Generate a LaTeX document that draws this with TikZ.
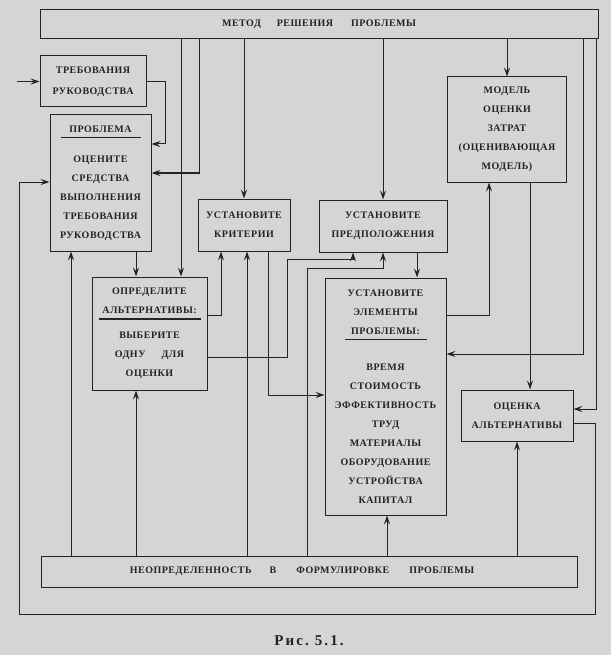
\documentclass[tikz,border=0pt]{standalone}
\usepackage{fontspec}
\setmainfont{Liberation Serif}
\newfontfamily\boxfont[LetterSpace=5]{Liberation Serif}
\newfontfamily\capfont[LetterSpace=14]{Liberation Serif}
\usetikzlibrary{arrows.meta}
\definecolor{paper}{RGB}{213,213,211}
\definecolor{ink}{RGB}{35,35,35}
\newcommand{\undr}[1]{\rule{#1pt}{1.4pt}}
\tikzset{
    block/.style={draw=ink,line width=1pt,fill=paper,align=center,inner sep=0pt,text=ink,font=\boxfont\bfseries\fontsize{10}{19}\selectfont},
    box/.style 2 args={block,minimum width=#1pt,minimum height=#2pt},
    link/.style={ink,line width=1pt,->,>={Stealth[length=9pt,width=6pt,inset=3.5pt]}}
}
\begin{document}
\begin{tikzpicture}[x=1pt,y=-1pt]
\fill[paper] (0,0) rectangle (611,655);
\useasboundingbox (0,0) rectangle (611,655);
\node[box={558}{29}] (meth) at (319,24.5) {МЕТОД\hspace{16pt}РЕШЕНИЯ\hspace{18pt}ПРОБЛЕМЫ};
\node[box={106}{51}] (req) at (93,81.5) {ТРЕБОВАНИЯ\\[2pt]РУКОВОДСТВА};
\node[box={101}{136}] (prob) at (100.5,183) {ПРОБЛЕМА\\[-13pt]\undr{80}\\[5pt]ОЦЕНИТЕ\\СРЕДСТВА\\ВЫПОЛНЕНИЯ\\ТРЕБОВАНИЯ\\РУКОВОДСТВА};
\node[box={92}{52}] (crit) at (244,225) {УСТАНОВИТЕ\\КРИТЕРИИ};
\node[box={115}{113}] (alt) at (149.5,333.5) {ОПРЕДЕЛИТЕ\\АЛЬТЕРНАТИВЫ:\\[-13pt]\undr{102}\\[0pt]ВЫБЕРИТЕ\\ОДНУ\hspace{16pt}ДЛЯ\\ОЦЕНКИ};
\node[box={128}{52}] (assum) at (383,226) {УСТАНОВИТЕ\\ПРЕДПОЛОЖЕНИЯ};
\node[box={119}{105}] (model) at (507,129.5) {МОДЕЛЬ\\ОЦЕНКИ\\ЗАТРАТ\\(ОЦЕНИВАЮЩАЯ\\МОДЕЛЬ)};
\node[box={121}{237}] (elem) at (385.5,396.5) {УСТАНОВИТЕ\\ЭЛЕМЕНТЫ\\ПРОБЛЕМЫ:\\[-13pt]\undr{82}\\[11pt]ВРЕМЯ\\СТОИМОСТЬ\\ЭФФЕКТИВНОСТЬ\\ТРУД\\МАТЕРИАЛЫ\\ОБОРУДОВАНИЕ\\УСТРОЙСТВА\\КАПИТАЛ};
\node[box={112}{51}] (eval) at (517,415.5) {ОЦЕНКА\\АЛЬТЕРНАТИВЫ};
\node[box={536}{31}] (unc) at (309,571.5) {НЕОПРЕДЕЛЕННОСТЬ\hspace{18pt}В\hspace{20pt}ФОРМУЛИРОВКЕ\hspace{20pt}ПРОБЛЕМЫ\hspace*{14pt}};
\node[text=ink,font=\capfont\bfseries\fontsize{15}{17}\selectfont] (cap) at (309,641) {Рис.\hspace{6pt}5.1.};
\coordinate (in) at (17,81.5);
\draw[link] (in) -- (req.west);
\draw[link] (req.east) -| (165,144) -- (prob.east|-0,144);
\draw[link] (meth.south-|181,0) -- (alt.north-|181,0);
\draw[link] (meth.south-|199,0) |- (prob.east|-0,173);
\draw[link] (meth.south-|crit.north) -- (crit.north);
\draw[link] (meth.south-|assum.north) -- (assum.north);
\draw[link] (meth.south-|model.north) -- (model.north);
\draw[link] (meth.south-|583,0) |- (elem.east|-0,354);
\draw[link] (meth.south-|596,0) |- (eval.east|-0,409);
\draw[link] (eval.east|-0,423) -| (595,614) -| (19,182) -- (prob.west|-0,182);
\draw[link] (prob.south-|136,0) -- (alt.north-|136,0);
\draw[link] (crit.south-|268,0) |- (elem.west|-0,395);
\draw[link] (alt.east|-0,315) -| (crit.south-|221,0);
\draw[link] (alt.east|-0,357) -| (287,259) -| (assum.south-|353,0);
\draw[link] (assum.south-|417,0) -- (elem.north-|417,0);
\draw[link] (elem.east|-0,315) -| (model.south-|489,0);
\draw[link] (model.south-|530,0) -- (eval.north-|530,0);
\foreach \x/\t in {71/prob,136/alt,247/crit,387/elem,517/eval}
    \draw[link] (unc.north-|\x,0) -- (\t.south-|\x,0);
\draw[link] (unc.north-|307,0) |- (383,268) -- (assum.south-|383,0);
\end{tikzpicture}
\end{document}
